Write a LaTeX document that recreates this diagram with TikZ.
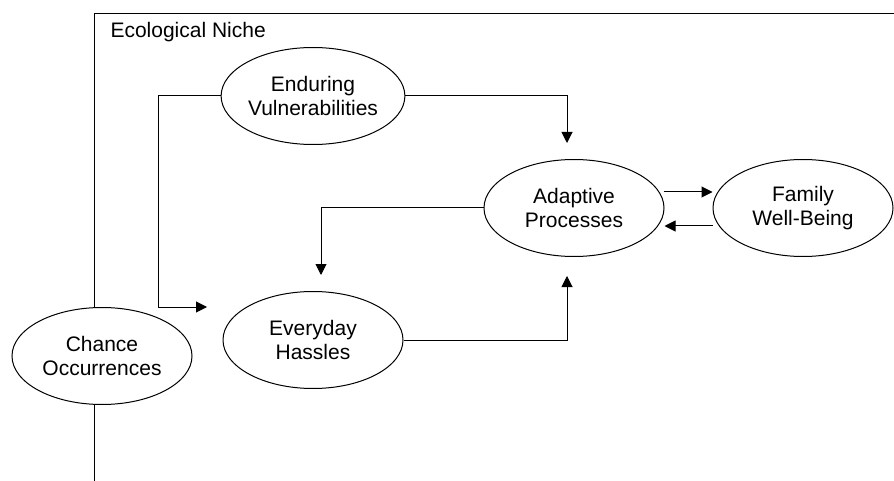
\documentclass[tikz,border=0pt]{standalone}
\usepackage{fontspec}
\setmainfont{Liberation Sans}
\usepackage{tikz}
\usetikzlibrary{positioning,arrows.meta,shapes.geometric}

\begin{document}
\begin{tikzpicture}[x=1pt,y=-1pt,
  every node/.style={font=\fontsize{21}{24}\selectfont},
  ell/.style={ellipse,draw,line width=1pt,fill=white,minimum width=180pt,minimum height=97pt,inner sep=0pt,align=center},
  fl/.style={-{Triangle[length=11pt,width=11pt]},line width=1pt},
  ln/.style={line width=1pt}]
\useasboundingbox (0,0) rectangle (894,481);

% niche frame, open at right and bottom
\draw[ln] (94,481) -- (94,14) -- (894,14);
\node[anchor=base west] (niche) at (107,38) {Ecological Niche};

\node[ell] (vuln) at (313,96) {Enduring\\Vulnerabilities};
\node[ell] (adapt) at (574,208) {Adaptive\\Processes};
\node[ell,right=48pt of adapt] (fam) {Family\\Well-Being};
\node[ell] (hassle) at (313,340) {Everyday\\Hassles};
\node[ell] (chance) at (102,356) {Chance\\Occurrences};

\coordinate (hin) at (207,307);
\coordinate (ain) at (567,143);
\coordinate (hin2) at (321,275);
\coordinate (ain2) at (567,276);

\draw[fl] (vuln.west) -- (158,96) |- (hin);
\draw[fl] (vuln.east) -| (ain);
\draw[fl] (adapt.west) -| (hin2);
\draw[fl] (hassle.east) -| (ain2);
\draw[fl] ([yshift=16pt,xshift=-1pt]adapt.east) -- ([yshift=16pt]fam.west);
\draw[fl] ([yshift=-18pt]fam.west) -- ([yshift=-18pt]adapt.east);
\end{tikzpicture}
\end{document}
